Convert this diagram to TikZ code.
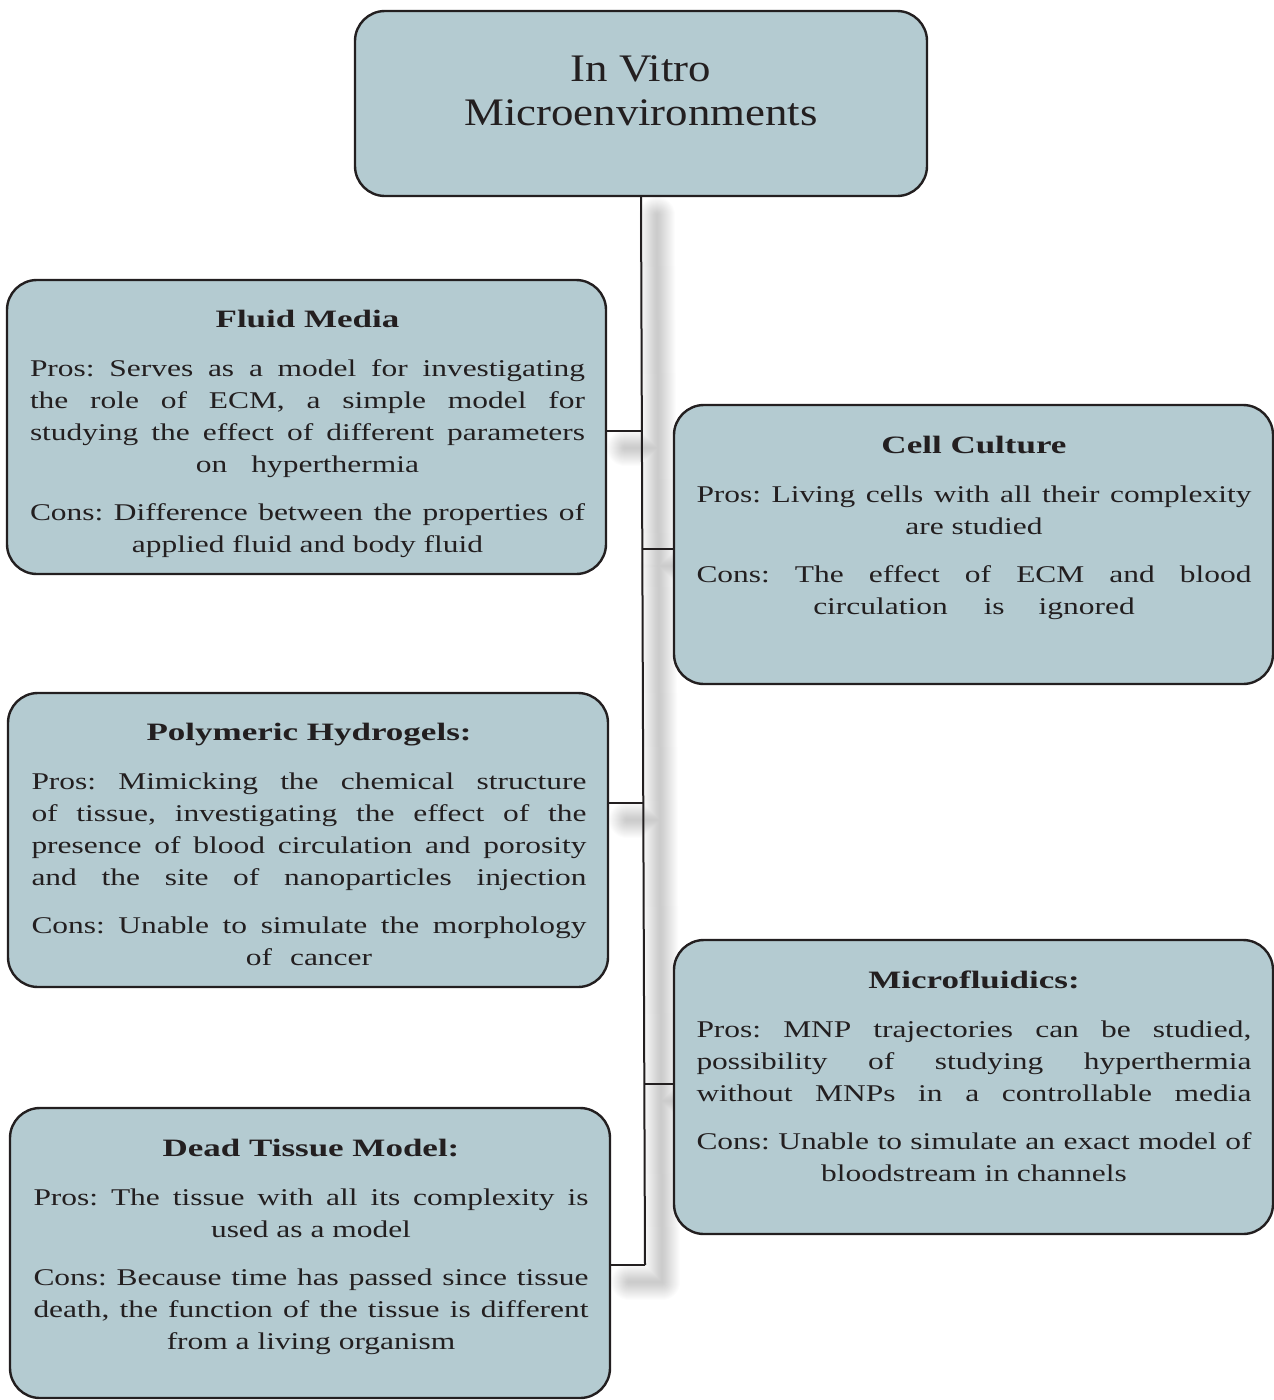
\documentclass[tikz,border=0pt]{standalone}
\usepackage{fontspec}
\setmainfont{Liberation Serif}
\newfontfamily\bodyff[FakeStretch=1.31]{Liberation Serif}
\newfontfamily\headff[FakeStretch=1.4]{Liberation Serif}
\newfontfamily\titleff[FakeStretch=1.15]{Liberation Serif}
\frenchspacing
\definecolor{txt}{RGB}{35,31,32}
\definecolor{boxfill}{RGB}{180,203,209}
\newlength\bw \setlength\bw{555pt}
\newcommand\jl[1]{\makebox[\bw][s]{#1}}
\newcommand\hd[1]{{\headff\bfseries\fontsize{25}{32}\selectfont #1}}
\newcommand\boxtext[1]{\vtop{\hsize=\bw\centering\frenchspacing\bodyff\fontsize{24}{32}\selectfont #1}}
\tikzset{
  cbox/.style={draw=txt, line width=2.4pt, fill=boxfill, rounded corners=30pt, inner sep=0pt},
  tx/.style={anchor=base, inner sep=0pt, outer sep=0pt, text=txt},
  conn/.style={draw=txt, line width=2pt},
}
\begin{document}
\begin{tikzpicture}[x=1pt,y=-1pt]
\useasboundingbox (0,0) rectangle (1274,1400);
% soft shadow of the connector tree
\foreach \w in {36,34,...,2}{
  \draw[black, line width=\w pt, opacity=0.011, line cap=round]
    (657,215) -- (662,1282)
    (625,448) -- (658,448)
    (658,566) -- (688,566)
    (627,820) -- (660,820)
    (661,1101) -- (688,1101)
    (629,1282) -- (662,1282);
}
% boxes
\node[cbox, minimum width=572pt, minimum height=185pt] (top) at (641,103.5) {};
\node[cbox, minimum width=599pt, minimum height=294pt] (fluid) at (306.5,427) {};
\node[cbox, minimum width=599pt, minimum height=279pt] (cell) at (973.5,544.5) {};
\node[cbox, minimum width=600pt, minimum height=294pt] (poly) at (308,840) {};
\node[cbox, minimum width=599pt, minimum height=294pt] (micro) at (973.5,1087) {};
\node[cbox, minimum width=600pt, minimum height=290pt] (dead) at (310,1253) {};
% title
\node[tx] (toptxt) at (641,81) {\vtop{\hsize=540pt\centering\titleff\fontsize{39}{44}\selectfont In Vitro\\ Microenvironments}};
% box texts
\node[tx] (fluidtxt) at (307.5,327) {\boxtext{\hd{Fluid Media}\\[17pt]
 \jl{Pros: Serves as a model for investigating}\\
 \jl{the role of ECM, a simple model for}\\
 \jl{studying the effect of different parameters}\\
 on\hspace{24pt}hyperthermia\\[16pt]
 \jl{Cons: Difference between the properties of}\\
 applied fluid and body fluid}};
\node[tx] (celltxt) at (974,453) {\boxtext{\hd{Cell Culture}\\[17pt]
 \jl{Pros: Living cells with all their complexity}\\
 are studied\\[16pt]
 \jl{Cons: The effect of ECM and blood}\\
 circulation\hspace{36pt}is\hspace{34pt}ignored}};
\node[tx] (polytxt) at (309,740) {\boxtext{\hd{Polymeric Hydrogels:}\\[17pt]
 \jl{Pros: Mimicking the chemical structure}\\
 \jl{of tissue, investigating the effect of the}\\
 \jl{presence of blood circulation and porosity}\\
 \jl{and the site of nanoparticles injection}\\[16pt]
 \jl{Cons: Unable to simulate the morphology}\\
 of\hspace{18pt}cancer}};
\node[tx] (microtxt) at (974,988) {\boxtext{\hd{Microfluidics:}\\[17pt]
 \jl{Pros: MNP trajectories can be studied,}\\
 \jl{possibility of studying hyperthermia}\\
 \jl{without MNPs in a controllable media}\\[16pt]
 \jl{Cons: Unable to simulate an exact model of}\\
 bloodstream in channels}};
\node[tx] (deadtxt) at (311,1156) {\boxtext{\hd{Dead Tissue Model:}\\[17pt]
 \jl{Pros: The tissue with all its complexity is}\\
 used as a model\\[16pt]
 \jl{Cons: Because time has passed since tissue}\\
 \jl{death, the function of the tissue is different}\\
 from a living organism}};
% connector tree
\coordinate (b1) at (641.1,431);
\coordinate (b2) at (641.7,549);
\coordinate (b3) at (642.8,803);
\coordinate (b4) at (644.2,1084);
\coordinate (tend) at (645,1265);
\draw[conn] (top.south) -- (tend);
\draw[conn] (fluid.east |- b1) -- (b1);
\draw[conn] (b2) -- (cell.west |- b2);
\draw[conn] (poly.east |- b3) -- (b3);
\draw[conn] (b4) -- (micro.west |- b4);
\draw[conn] (dead.east |- tend) -- (tend);
\end{tikzpicture}
\end{document}
